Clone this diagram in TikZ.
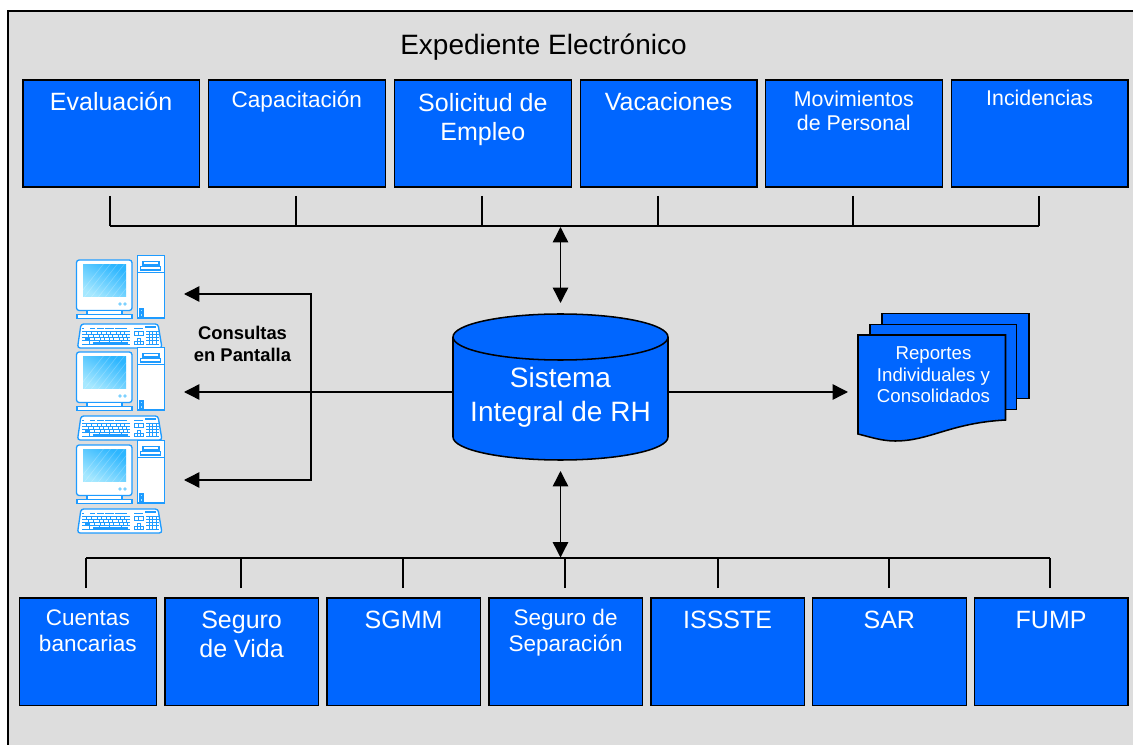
\documentclass[tikz,border=0pt]{standalone}
\usepackage{fontspec}
\setmainfont{Liberation Sans}
\usetikzlibrary{arrows.meta}
\definecolor{boxblue}{HTML}{0066FF}
\definecolor{panelgray}{HTML}{DDDDDD}
\definecolor{pcblue}{HTML}{1E9BFF}
\definecolor{scrA}{HTML}{2DB6FF}
\definecolor{scrB}{HTML}{A6E8FF}
\tikzset{
  x=0.75pt,y=-0.75pt,
  bluebox/.style={draw=black,line width=1.25pt,fill=boxblue,inner sep=0pt,anchor=north west},
  boxtext/.style={text=white,anchor=base,inner sep=0pt,align=center},
  fs/.style 2 args={font=\fontsize{#1}{#2}\selectfont},
  conn/.style={draw=black,line width=1.05pt},
  tipboth/.style={conn,{Triangle[length=11.5pt,width=11.5pt]}-{Triangle[length=11.5pt,width=11.5pt]}},
  tipend/.style={conn,-{Triangle[length=11.5pt,width=11.5pt]}},
  pcline/.style={draw=pcblue,line width=0.8pt},
  keyline/.style={draw=pcblue,line width=0.65pt},
  pics/workstation/.style={code={
    % monitor
    \draw[pcline,fill=white,rounded corners=2pt,line width=1pt] (76.5,260) rectangle (132,310.5);
    \begin{scope}
      \clip (83,265) rectangle (126,297);
      \shade[left color=scrA,right color=scrB,shading angle=-30] (83,265) rectangle (126,297);
      \foreach \d in {0,7,...,84}{
        \draw[white,opacity=0.22,line width=0.5pt] (75+\d,300) -- (75+\d+30,262);
      }
    \end{scope}
    \fill[scrB!70!pcblue] (120,304) circle (1.8) (125,304) circle (1.8);
    \draw[pcline,fill=white] (87,310.5) rectangle (122,314.5);
    \draw[pcline,fill=white,line width=1pt] (77,314.5) rectangle (132,318.5);
    % tower
    \draw[pcline,fill=white,line width=1pt] (137.5,255.5) rectangle (164.5,318);
    \draw[pcline] (137.5,272.5) -- (164.5,272.5);
    \draw[pcline] (143,261.5) rectangle (159,265);
    \draw[pcline] (140.5,266.5) rectangle (160.5,270);
    \draw[pcline,fill=scrB] (140,309) rectangle (143,312);
    \draw[pcline,fill=scrB] (140,313.5) rectangle (143,316.5);
    % keyboard
    \draw[pcline,fill=white,rounded corners=2pt,line width=1pt]
      (81,324) -- (158,324) -- (162,348) -- (77.5,348) -- cycle;
    \fill[pcblue] (145,326.2) rectangle (156,328);
    \foreach \a/\b in {82/84,90/95,97/104,105/114,115/119,119/127,134/143}{
      \draw[keyline] (\a,328) -- (\b,328);
    }
    \foreach \yy in {331.5,334.5,337.5,340.5,344.5}{
      \draw[keyline] (82,\yy) -- (130,\yy);
      \draw[keyline] (146,\yy) -- (159,\yy);
    }
    \foreach \xx in {86,91,97,101,106,110,116,120,124}{
      \draw[keyline] (\xx,331.5) -- (\xx,334.5);
      \draw[keyline] (\xx+2,334.5) -- (\xx+2,337.5);
      \draw[keyline] (\xx+3.5,337.5) -- (\xx+3.5,340.5);
    }
    \foreach \xx in {89,99,109,121}{
      \draw[keyline] (\xx,340.5) -- (\xx,344.5);
    }
    \foreach \xx in {149,152.5,156}{
      \draw[keyline] (\xx,331.5) -- (\xx,344.5);
    }
    \fill[pcblue] (85,338) rectangle (89,341.5);
    \fill[pcblue] (93,342.5) rectangle (128,344.5);
    \draw[keyline] (134,331) rectangle (143,335);
    \draw[keyline] (138.5,331) -- (138.5,335);
    \draw[keyline] (134,344) rectangle (143,341);
    \draw[keyline] (137,341) -- (137,338) -- (140,338) -- (140,341);
    \draw[keyline] (137,341) -- (137,344) (140,341) -- (140,344);
  }}
}
\begin{document}
\begin{tikzpicture}
\useasboundingbox (0,0) rectangle (1133,745);
\fill[white] (0,0) rectangle (1133,745);
\fill[panelgray] (8,11) rectangle (1133,745);
\coordinate (frameBL) at (8,745);
\coordinate (frameTL) at (8,11);
\coordinate (frameTR) at (1133,11);
\draw[black,line width=1.15pt] (frameBL) -- (frameTL) -- (frameTR);

\node[text=black,anchor=base,inner sep=0pt,fs={21}{21}] (title) at (543.5,54.5) {Expediente Electrónico};

% top boxes
\foreach \n/\xa/\xb in {t1/22/198.5,t2/207.5/384.5,t3/393.5/570.5,t4/579.5/756,t5/764.5/941.5,t6/950.5/1127}{
  \node[bluebox,minimum width={(\xb-\xa)*0.75pt},minimum height={107.5*0.75pt}] (\n) at (\xa,79) {};
}
\node[boxtext,fs={18.75}{18.75}] (tt1) at (t1.north |- 0,110.5) {Evaluación};
\node[boxtext,fs={16.9}{16.9}] (tt2) at (t2.north |- 0,107.5) {Capacitación};
\node[boxtext,anchor=center,fs={18.75}{21.75}] (tt3) at (t3.north |- 0,120) {Solicitud de\\Empleo};
\node[boxtext,fs={18.75}{18.75}] (tt4) at (t4.north |- 0,110.5) {Vacaciones};
\node[boxtext,anchor=center,fs={16}{18}] (tt5) at (t5.north |- 0,111) {Movimientos\\de Personal};
\node[boxtext,fs={16}{16}] (tt6) at (t6.north |- 0,105.5) {Incidencias};

% bottom boxes
\foreach \n/\xa/\xb in {b1/18.5/155.5,b2/164/317.5,b3/326/479.5,b4/488/641.5,b5/650/803.5,b6/811.5/965.5,b7/973.5/1127}{
  \node[bluebox,minimum width={(\xb-\xa)*0.75pt},minimum height={107.5*0.75pt}] (\n) at (\xa,597) {};
}
\node[boxtext,anchor=center,fs={16.9}{19.5}] (bt1) at (b1.north |- 0,631) {Cuentas\\bancarias};
\node[boxtext,anchor=center,fs={18.75}{21.75}] (bt2) at (b2.north |- 0,634) {Seguro\\de Vida};
\node[boxtext,fs={18.75}{18.75}] (bt3) at (b3.north |- 0,628) {SGMM};
\node[boxtext,anchor=center,fs={16.9}{19.5}] (bt4) at (b4.north |- 0,633) {Seguro de\\Separación};
\node[boxtext,fs={18.75}{18.75}] (bt5) at (b5.north |- 0,628) {ISSSTE};
\node[boxtext,fs={18.75}{18.75}] (bt6) at (b6.north |- 0,628) {SAR};
\node[boxtext,fs={18.75}{18.75}] (bt7) at (b7.north |- 0,628) {FUMP};

% top bus
\foreach \n/\xx in {d1/110,d2/296,d3/482,d4/658,d5/853,d6/1039}{
  \coordinate (\n a) at (\xx,196);
  \coordinate (\n b) at (\xx,226);
  \draw[conn] (\n a) -- (\n b);
}
\draw[conn] (d1b) -- (d6b);

% bottom bus
\foreach \n/\xx in {e1/86,e2/241,e3/403,e4/565,e5/718,e6/889,e7/1050}{
  \coordinate (\n a) at (\xx,588);
  \coordinate (\n b) at (\xx,558);
  \draw[conn] (\n a) -- (\n b);
}
\draw[conn] (e1b) -- (e7b);

% cylinder
\node[minimum width={215*0.75pt},minimum height={146*0.75pt},inner sep=0pt] (cyl) at (560.5,387) {};
\draw[black,line width=1.15pt,fill=boxblue]
  (453,337) -- (453,437) arc[start angle=180,end angle=360,x radius=107.5,y radius=-23]
  -- (668,337) arc[start angle=0,end angle=180,x radius=107.5,y radius=-23] -- cycle;
\draw[black,line width=1.15pt] (453,337) arc[start angle=180,end angle=360,x radius=107.5,y radius=-23];
\node[boxtext,anchor=center,fs={21}{25.5}] (cylt) at (560.5,397) {Sistema\\Integral de RH};

% double arrows
\coordinate (aT) at (560.5,303);
\coordinate (aTb) at (560.5,227);
\draw[tipboth] (aTb) -- (aT);
\coordinate (aB) at (560.5,471);
\coordinate (aBb) at (560.5,557.5);
\draw[tipboth] (aB) -- (aBb);

% workstations
\pic at (0,0) {workstation};
\pic at (0,92) {workstation};
\pic at (0,185) {workstation};

% left connectors
\coordinate (c1) at (311,294);
\coordinate (c3) at (311,480);
\coordinate (p1) at (184,294);
\coordinate (p2) at (184,392);
\coordinate (p3) at (184,480);
\coordinate (cylW) at (453,392);
\coordinate (cylE) at (668,392);
\coordinate (repW) at (848,392);
\draw[tipboth] (p1) -- (c1) -- (c3) -- (p3);
\draw[tipend] (cylW) -- (p2);
\draw[tipend] (cylE) -- (repW);
\node[text=black,anchor=center,inner sep=0pt,align=center,font=\fontsize{13.8}{16}\selectfont\bfseries] (cons) at (242.5,344) {Consultas\\en Pantalla};

% report pages
\draw[black,line width=1.15pt,fill=boxblue] (882,313.5) rectangle (1029,398.5);
\draw[black,line width=1.15pt,fill=boxblue] (870,324.5) rectangle (1016.5,409.5);
\draw[black,line width=1.15pt,fill=boxblue]
  (858,335) -- (1005.5,335) -- (1005.5,420)
  .. controls (950,423) and (930,441) .. (895,441)
  .. controls (882,441) and (870,437) .. (858,434) -- cycle;
\node[boxtext,anchor=center,fs={14}{16.2}] (rep) at (933.5,375) {Reportes\\Individuales y\\Consolidados};
\end{tikzpicture}
\end{document}
